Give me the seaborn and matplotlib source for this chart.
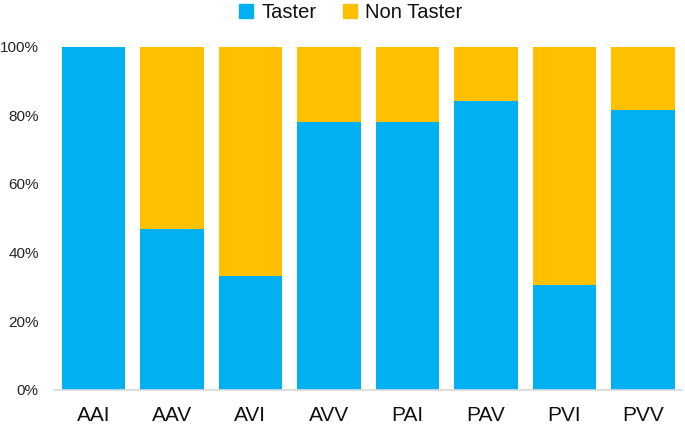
import pandas as pd
import seaborn as sns
import matplotlib.pyplot as plt
from matplotlib.ticker import PercentFormatter
from matplotlib.patches import Patch

genotypes = ['AAI', 'AAV', 'AVI', 'AVV', 'PAI', 'PAV', 'PVI', 'PVV']
taster = [1.00, 0.468, 0.330, 0.781, 0.781, 0.842, 0.304, 0.815]
non_taster = [1 - t for t in taster]

blue = '#00B0F0'
orange = '#FFC000'

sns.set_style('white')
plt.rcParams['font.family'] = ['Liberation Sans', 'DejaVu Sans']

df = pd.DataFrame({'Genotype': genotypes, 'Taster': taster, 'Non Taster': non_taster})
df['Total'] = df['Taster'] + df['Non Taster']

fig = plt.figure(figsize=(6.85, 4.25), dpi=100)
ax = fig.add_axes([0.079, 0.0835, 0.917, 0.806])

# stacked: draw the total in orange, then taster in blue over it
sns.barplot(data=df, x='Genotype', y='Total', color=orange, width=0.81,
            saturation=1, linewidth=0, ax=ax)
sns.barplot(data=df, x='Genotype', y='Taster', color=blue, width=0.81,
            saturation=1, linewidth=0, ax=ax)

ax.set_ylim(0, 1)
ax.set_xlim(-0.5, len(genotypes) - 0.5)
ax.yaxis.set_major_formatter(PercentFormatter(1.0, decimals=0))
ax.set_yticks([0, 0.2, 0.4, 0.6, 0.8, 1.0])
ax.set_xlabel('')
ax.set_ylabel('')
ax.tick_params(axis='y', labelsize=11, length=0, pad=11, colors='#262626')
ax.tick_params(axis='x', labelsize=15, length=0, pad=12, colors='#111111')

for s in ['top', 'right', 'left']:
    ax.spines[s].set_visible(False)
ax.spines['bottom'].set_color('#D9D9D9')
ax.spines['bottom'].set_linewidth(1.2)

handles = [Patch(color=blue, label='Taster'), Patch(color=orange, label='Non Taster')]
fig.legend(handles=handles, loc='upper center', bbox_to_anchor=(0.512, 1.035), ncol=2,
           frameon=False, fontsize=14.5, handlelength=0.7, handleheight=0.7,
           handletextpad=0.4, columnspacing=1.3, labelcolor='#111111')

plt.savefig('out.png', dpi=100)
